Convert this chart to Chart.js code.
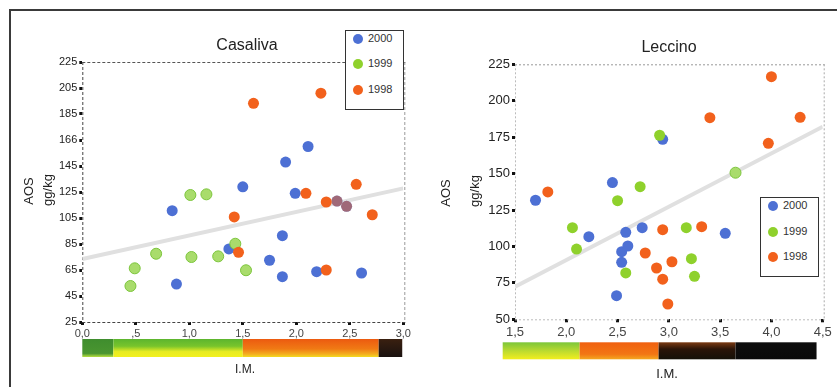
<!DOCTYPE html>
<html>
<head>
<meta charset="utf-8">
<script src="https://cdn.jsdelivr.net/npm/chart.js@4.4.1/dist/chart.umd.min.js"></script>
<style>
  html, body { margin: 0; padding: 0; background: #fff; }
  body { width: 837px; height: 387px; position: relative; overflow: hidden; font-family: "Liberation Sans", Arial, sans-serif; color: #222; }
  canvas { position: absolute; top: 0; }
  .frame { position: absolute; left: 9px; top: 9px; width: 840px; height: 376px; border-top: 2px solid #3a3a3a; border-left: 2px solid #3a3a3a; border-bottom: 1px solid #666; }
  .txt { position: absolute; white-space: nowrap; transform: translate(-50%, -50%); }
  .rot { transform: translate(-50%, -50%) rotate(-90deg); }
  .legend { position: absolute; border: 1.5px solid #333; background: #fff; }
  .legend .item { position: absolute; left: 0; font-size: 11px; color: #333; }
  .legend .dot { position: absolute; width: 10px; height: 10px; border-radius: 50%; }
</style>
</head>
<body>
<div class="frame"></div>
<canvas id="casaliva" width="420" height="387" style="left:0"></canvas>
<canvas id="leccino" width="417" height="387" style="left:420px"></canvas>

<div class="txt" style="left:247px;top:45px;font-size:16px">Casaliva</div>
<div class="txt rot" style="left:28px;top:191px;font-size:13px">AOS</div>
<div class="txt rot" style="left:47px;top:190px;font-size:13px">gg/kg</div>
<div class="txt" style="left:245px;top:369px;font-size:12px">I.M.</div>

<div class="txt" style="left:669px;top:47px;font-size:16px">Leccino</div>
<div class="txt rot" style="left:445px;top:193px;font-size:13px">AOS</div>
<div class="txt rot" style="left:474px;top:191px;font-size:13px">gg/kg</div>
<div class="txt" style="left:667px;top:373px;font-size:13px">I.M.</div>

<div id="legendCasaliva" class="legend" style="left:345px;top:30px;width:57px;height:78px"></div>
<div id="legendLeccino" class="legend" style="left:760px;top:197px;width:57px;height:78px"></div>

<script>
// ---- Casaliva: I.M. (x) and AOS gg/kg (y) per harvest year ----
const casaliva2000X = [2.11, 1.90, 1.50, 1.99, 0.84, 1.87, 1.37, 1.75, 2.19, 2.61, 1.87, 0.88, 2.38, 2.47];
const casaliva2000Y = [160, 148, 129, 124, 110.6, 91.4, 81.2, 72.5, 63.7, 62.7, 59.9, 54.2, 118, 114];
const casaliva1999X = [1.01, 1.16, 1.43, 0.69, 1.02, 1.27, 0.49, 1.53, 0.45];
const casaliva1999Y = [122.7, 123.2, 85.2, 77.5, 75, 75.5, 66.3, 64.8, 52.7];
const casaliva1998X = [1.60, 2.23, 2.09, 2.56, 2.28, 1.42, 2.71, 1.46, 2.28, 2.38, 2.47];
const casaliva1998Y = [193.2, 201, 124, 130.9, 117.3, 105.8, 107.5, 78.6, 65, 118, 114];
const casalivaTrendX = [0, 3];
const casalivaTrendY = [73.5, 127.8];
const casalivaYLabels = ["25", "45", "65", "85", "105", "125", "145", "166", "185", "205", "225"];
const casalivaXLabels = ["0,0", ",5", "1,0", "1,5", "2,0", "2,5", "3,0"];
const casalivaBandEdges = [0, 0.29, 1.5, 2.77, 2.99];

// ---- Leccino ----
const leccino2000X = [2.94, 2.45, 1.70, 2.22, 2.58, 2.74, 3.55, 2.54, 2.60, 2.54, 2.49];
const leccino2000Y = [173.5, 143.8, 131.7, 106.7, 109.7, 112.9, 109, 96.4, 100.3, 89.1, 66.2];
const leccino1999X = [2.91, 3.65, 2.72, 2.50, 2.06, 2.10, 3.17, 3.22, 2.58, 3.25];
const leccino1999Y = [176.3, 150.6, 141, 131.4, 112.9, 98.2, 112.9, 91.6, 81.8, 79.5];
const leccino1998X = [4.00, 3.40, 4.28, 3.97, 1.82, 2.94, 3.32, 2.77, 3.03, 2.88, 2.94, 2.99];
const leccino1998Y = [216.5, 188.4, 188.6, 170.8, 137.4, 111.5, 113.6, 95.5, 89.5, 85.2, 77.5, 60.5];
const leccinoTrendX = [1.5, 4.5];
const leccinoTrendY = [72.4, 182.2];
const leccinoYLabels = ["50", "75", "100", "125", "150", "175", "200", "225"];
const leccinoXLabels = ["1,5", "2,0", "2,5", "3,0", "3,5", "4,0", "4,5"];
const leccinoBandEdges = [1.38, 2.13, 2.9, 3.65, 4.44];

const years = ["2000", "1999", "1998"];

// ---- styles ----
const BLUE = '#4d70d4';
const GREEN = '#8fd12c';
const GREEN_LIGHT = '#a9dc6c';
const ORANGE = '#f2611c';
const ORANGE_OVER_BLUE = 'rgba(242,97,28,0.5)';

const casalivaBandColors = [
  [[0, '#3f8d2e'], [0.8, '#4a9630'], [1, '#b8e040']],
  [[0, '#5cb52e'], [0.4, '#78c42c'], [0.7, '#e8ec22'], [1, '#f2f01e']],
  [[0, '#ec5a10'], [0.55, '#f07a14'], [0.85, '#f4b020'], [1, '#f2dc20']],
  [[0, '#3a2010'], [1, '#1a1210']]
];
const leccinoBandColors = [
  [[0, '#7cc63a'], [0.5, '#bada30'], [1, '#f2ee1e']],
  [[0, '#f06010'], [0.7, '#f27614'], [1, '#f4a820']],
  [[0, '#7a3a12'], [0.4, '#2a1408'], [1, '#141008']],
  [[0, '#0e0e0e'], [1, '#0a0a0a']]
];

function pts(xs, ys) { return xs.map((x, i) => ({ x, y: ys[i] })); }

// Graded I.M. band under the x axis, placed through the x scale
const imBandPlugin = {
  id: 'imBand',
  afterDraw(chart, args, opts) {
    const { ctx, scales: { x }, chartArea } = chart;
    const top = chartArea.bottom + opts.offset;
    const h = opts.height;
    ctx.save();
    for (let i = 0; i < opts.edges.length - 1; i++) {
      const x0 = x.getPixelForValue(opts.edges[i]);
      const x1 = x.getPixelForValue(opts.edges[i + 1]);
      const g = ctx.createLinearGradient(0, top, 0, top + h);
      opts.colors[i].forEach(([s, c]) => g.addColorStop(s, c));
      ctx.fillStyle = g;
      ctx.fillRect(x0, top, x1 - x0, h);
    }
    ctx.restore();
  }
};

// Dashed frame around the plot area
const frameBorderPlugin = {
  id: 'frameBorder',
  beforeDatasetsDraw(chart, args, opts) {
    const { ctx, chartArea: a } = chart;
    ctx.save();
    ctx.lineWidth = 1;
    ctx.setLineDash(opts.dash);
    ctx.strokeStyle = opts.topColor;
    ctx.beginPath();
    ctx.moveTo(a.left, a.top + 0.5); ctx.lineTo(a.right + 2, a.top + 0.5);
    ctx.stroke();
    ctx.strokeStyle = opts.rightColor;
    ctx.beginPath();
    ctx.moveTo(a.right + 1.5, a.top); ctx.lineTo(a.right + 1.5, a.bottom);
    ctx.stroke();
    ctx.strokeStyle = opts.leftColor;
    ctx.beginPath();
    ctx.moveTo(a.left + 0.5, a.top); ctx.lineTo(a.left + 0.5, a.bottom);
    ctx.moveTo(a.left, a.bottom + 0.5); ctx.lineTo(a.right + 2, a.bottom + 0.5);
    ctx.stroke();
    ctx.restore();
  }
};

function nearAny(p, list) {
  return list.some(q => Math.abs(q.x - p.x) < 0.01 && Math.abs(q.y - p.y) < 0.5);
}

function makeChart(id, cfg) {
  const blueData = pts(cfg.x2000, cfg.y2000);
  const greenData = pts(cfg.x1999, cfg.y1999);
  const orangeData = pts(cfg.x1998, cfg.y1998);
  return new Chart(document.getElementById(id), {
    type: 'scatter',
    data: {
      datasets: [
        {
          type: 'line', label: 'trend', data: pts(cfg.trendX, cfg.trendY),
          borderColor: '#e0e0e0', borderWidth: 4, pointRadius: 0, order: 10
        },
        {
          label: years[0], data: blueData, order: 3,
          backgroundColor: BLUE, borderColor: BLUE, borderWidth: 0, pointRadius: 5.5
        },
        {
          label: years[1], data: greenData, order: 2,
          backgroundColor: ctx => cfg.lightGreen(ctx) ? GREEN_LIGHT : GREEN,
          borderColor: ctx => cfg.lightGreen(ctx) ? '#7cc53c' : GREEN,
          borderWidth: ctx => cfg.lightGreen(ctx) ? 1 : 0, pointRadius: 5.5
        },
        {
          label: years[2], data: orangeData, order: 1,
          backgroundColor: ctx => (ctx.raw && nearAny(ctx.raw, blueData)) ? ORANGE_OVER_BLUE : ORANGE,
          borderWidth: 0, pointRadius: 5.5
        }
      ]
    },
    options: {
      responsive: false,
      animation: false,
      devicePixelRatio: 1,
      layout: { padding: cfg.padding },
      plugins: {
        legend: { display: false },
        tooltip: { enabled: false },
        imBand: { edges: cfg.bandEdges, colors: cfg.bandColors, offset: cfg.bandOffset, height: cfg.bandHeight },
        frameBorder: cfg.frame
      },
      scales: {
        x: {
          type: 'linear', min: cfg.xMin, max: cfg.xMax,
          afterFit: s => { s.height = cfg.xAxisHeight; },
          border: { display: false },
          grid: { drawOnChartArea: false, drawTicks: true, tickLength: 3, tickWidth: 3, tickColor: '#111' },
          ticks: {
            stepSize: 0.5, padding: 2, color: '#444', maxRotation: 0,
            font: { family: '"Liberation Sans", Arial, sans-serif', size: cfg.fontSize },
            callback: (v, i) => cfg.xLabels[i]
          }
        },
        y: {
          type: 'linear', min: cfg.yMin, max: cfg.yMax,
          afterFit: s => { s.width = cfg.yAxisWidth; },
          border: { display: false },
          grid: { drawOnChartArea: false, drawTicks: true, tickLength: 3, tickWidth: 3, tickColor: '#111' },
          ticks: {
            stepSize: cfg.yStep, padding: 2, color: '#222',
            font: { family: '"Liberation Sans", Arial, sans-serif', size: cfg.fontSize },
            callback: (v, i) => cfg.yLabels[i]
          }
        }
      }
    },
    plugins: [imBandPlugin, frameBorderPlugin]
  });
}

makeChart('casaliva', {
  x2000: casaliva2000X, y2000: casaliva2000Y,
  x1999: casaliva1999X, y1999: casaliva1999Y,
  x1998: casaliva1998X, y1998: casaliva1998Y,
  trendX: casalivaTrendX, trendY: casalivaTrendY,
  xLabels: casalivaXLabels, yLabels: casalivaYLabels,
  bandEdges: casalivaBandEdges, bandColors: casalivaBandColors,
  bandOffset: 17, bandHeight: 18,
  xMin: 0, xMax: 3, yMin: 25, yMax: 225, yStep: 20,
  fontSize: 11,
  padding: { top: 62, right: 16.7, left: 0, bottom: 0 },
  yAxisWidth: 82.3, xAxisHeight: 65,
  lightGreen: () => true,
  frame: { dash: [3, 2], topColor: '#555', rightColor: '#999', leftColor: '#444' }
});

makeChart('leccino', {
  x2000: leccino2000X, y2000: leccino2000Y,
  x1999: leccino1999X, y1999: leccino1999Y,
  x1998: leccino1998X, y1998: leccino1998Y,
  trendX: leccinoTrendX, trendY: leccinoTrendY,
  xLabels: leccinoXLabels, yLabels: leccinoYLabels,
  bandEdges: leccinoBandEdges, bandColors: leccinoBandColors,
  bandOffset: 23, bandHeight: 17,
  xMin: 1.5, xMax: 4.5, yMin: 50, yMax: 225, yStep: 25,
  fontSize: 13,
  padding: { top: 64.3, right: 14.3, left: 0, bottom: 0 },
  yAxisWidth: 95, xAxisHeight: 67.7,
  lightGreen: ctx => ctx.raw && ctx.raw.x === 3.65,
  frame: { dash: [2, 2], topColor: '#999', rightColor: '#aaa', leftColor: '#bbb' }
});

// HTML legends
function buildLegend(id, tops) {
  const box = document.getElementById(id);
  const colors = [BLUE, GREEN, ORANGE];
  years.forEach((yr, i) => {
    const dot = document.createElement('div');
    dot.className = 'dot';
    dot.style.background = colors[i];
    dot.style.left = '7px';
    dot.style.top = (tops[i] - 5) + 'px';
    box.appendChild(dot);
    const t = document.createElement('div');
    t.className = 'item';
    t.textContent = yr;
    t.style.left = '22px';
    t.style.top = (tops[i] - 7) + 'px';
    box.appendChild(t);
  });
}
buildLegend('legendCasaliva', [8, 33, 59]);
buildLegend('legendLeccino', [8, 34, 59]);
</script>
</body>
</html>
